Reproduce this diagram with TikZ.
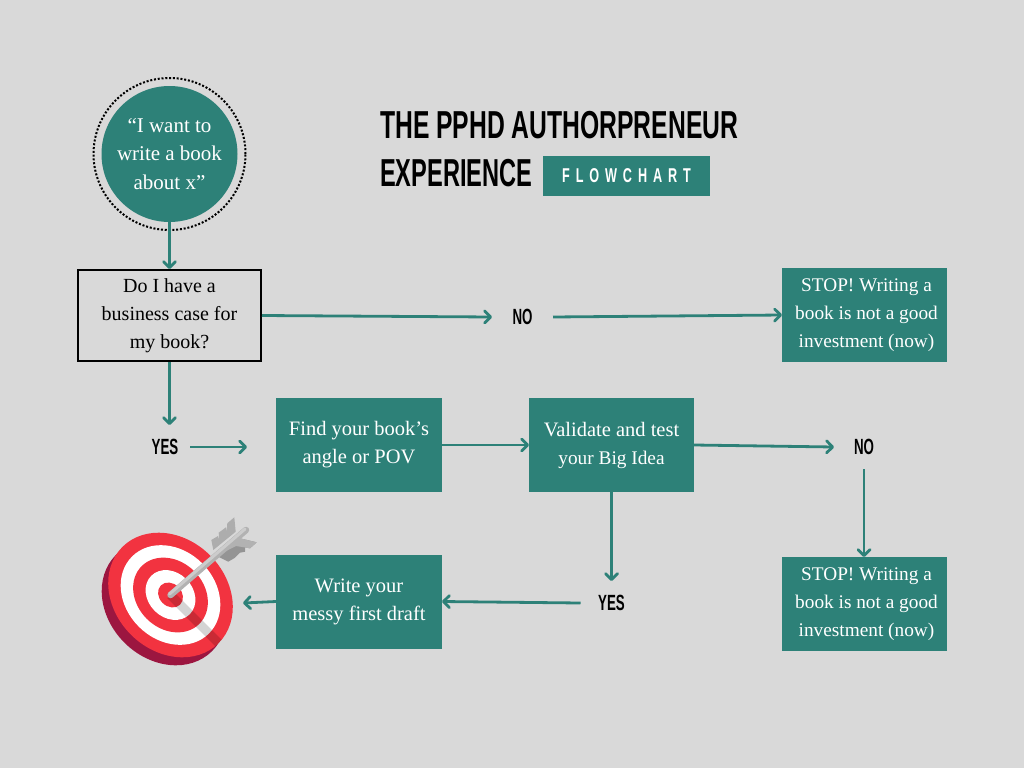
\documentclass[tikz,border=0pt]{standalone}
\usepackage{fontspec}
\setmainfont{Liberation Serif}
\newfontfamily\headf[FakeStretch=0.633]{Liberation Sans}[BoldFont={Liberation Sans Bold}]
\newfontfamily\headg[FakeStretch=0.605]{Liberation Sans}[BoldFont={Liberation Sans Bold}]
\usetikzlibrary{arrows.meta}
\definecolor{teal}{HTML}{2D8178}
\definecolor{bgc}{HTML}{D9D9D9}
\definecolor{tred}{HTML}{F23340}
\definecolor{tdark}{HTML}{9C1640}
\newcommand{\nudge}{\hspace*{4pt}}
\tikzset{
 x=1pt,y=-1pt,
 flow/.style={draw=teal,line width=2.8pt,-{Straight Barb[length=6pt,width=12pt,line width=2.8pt,round]}},
 tealbox/.style={fill=teal,text=white,font=\fontsize{20.5}{28}\selectfont,align=center,minimum width=166pt,minimum height=94pt,inner sep=0pt,outer sep=0pt},
 stopbox/.style={tealbox,minimum width=165pt,font=\fontsize{19.3}{28}\selectfont},
 qbox/.style={draw=black,line width=2pt,text=black,font=\fontsize{20}{28}\selectfont,align=center,minimum width=183pt,minimum height=91pt,inner sep=0pt,outer sep=1pt},
 answer/.style={font=\headg\bfseries\fontsize{22}{24}\selectfont,text=black,inner sep=0pt,outer sep=0pt},
 head/.style={font=\bfseries\fontsize{39}{46}\selectfont,text=black,inner sep=0pt,anchor=base west},
}
\begin{document}
\begin{tikzpicture}
\useasboundingbox (0,0) rectangle (1024,768);
\fill[bgc] (0,0) rectangle (1024,768);
% title
\node[head] (t1) at (380,138) {\headf\bfseries THE PPHD AUTHORPRENEUR};
\node[head] (t2) at (380,186) {\headg\bfseries EXPERIENCE};
\node[fill=teal,text=white,minimum width=167pt,minimum height=40pt,inner sep=0pt,font=\headf\bfseries\fontsize{20}{24}\selectfont] (tag) at (626.5,176) {F\hspace{5.9pt}L\hspace{5.9pt}O\hspace{5.9pt}W\hspace{5.9pt}C\hspace{5.9pt}H\hspace{5.9pt}A\hspace{5.9pt}R\hspace{5.9pt}T\hspace{6pt}};
% start
\draw[black,line width=2pt,dash pattern=on 2pt off 1.8pt] (169.5,154) circle [radius=76pt];
\node[circle,fill=teal,text=white,minimum size=136pt,inner sep=0pt,outer sep=0pt,align=center,font=\fontsize{21}{28.5}\selectfont] (start) at (169.5,154) {“I want to\\write a book\\about x”};
% boxes
\node[qbox] (q) at (169.5,315.5) {Do I have a\\business case for\\my book?};
\node[stopbox] (stopa) at (864.5,315) {\nudge STOP! Writing a\\\nudge book is not a good\\\nudge investment (now)};
\node[tealbox] (find) at (359,445) {Find your book’s\\angle or POV};
\node[stopbox] (valid) at (611.5,445) {\fontsize{20.5}{28}\selectfont Validate and test\\your Big Idea};
\node[stopbox] (stopb) at (864.5,604) {\nudge STOP! Writing a\\\nudge book is not a good\\\nudge investment (now)};
\node[tealbox] (draft) at (359,601.5) {Write your\\messy first draft};
% answers
\node[answer,minimum width=61pt] (noa) at (522.5,317) {NO};
\node[answer,minimum width=50pt,minimum height=44pt] (yesa) at (165,447) {YES};
\node[answer,minimum width=60pt,minimum height=44pt] (nob) at (864,447) {NO};
\node[answer,minimum width=62pt,minimum height=44pt] (yesb) at (611.5,603) {YES};
% target
\fill[tdark,rotate around={-45:(164,603)}] (164,603) ellipse [x radius=68pt,y radius=56pt];
\begin{scope}[rotate around={-45:(170.5,595)}]
 \fill[tred] (170.5,595) ellipse [x radius=68pt,y radius=56pt];
 \fill[white] (170.5,595) ellipse [x radius=54.4pt,y radius=44.8pt];
 \fill[tred] (170.5,595) ellipse [x radius=40.8pt,y radius=33.6pt];
 \fill[white] (170.5,595) ellipse [x radius=27.2pt,y radius=22.4pt];
 \fill[tred] (170.5,595) ellipse [x radius=13.6pt,y radius=11.2pt];
 \clip (170.5,595) ellipse [x radius=68pt,y radius=56pt];
 \fill[black,opacity=.17] (170.5,590.5) rectangle (245,599.5);
\end{scope}
% feathers
\fill[black!32] (213.3,550) -- (211.3,540) -- (218,536) -- (219.3,540) -- (218.7,532.7) -- (226,527.3) -- (226.7,531.7) -- (227.3,523.3) -- (234.3,517.3) -- (235.7,531.7) -- cycle;
\fill[black!42] (218.3,556.7) -- (240,538.3) -- (256.7,542.3) -- (250,548.3) -- (245,547.3) -- (245,551.7) -- (240,552.7) -- (235,557.7) -- (228.3,561.7) -- cycle;
\fill[black!30] (222,553) -- (240,538.3) -- (256.7,542.3) -- (250,548.3) -- (236,546) -- cycle;
% shaft
\draw[line width=6.5pt,line cap=round,draw=black!30] (170.5,595) -- (246,530);
\draw[line width=3pt,line cap=round,draw=black!20] (169.5,594) -- (245,529);
% connectors
\draw[flow] (start.south) -- (q.north);
\draw[flow] (q.east) -- (noa.west);
\draw[flow] (noa.east) -- (stopa.west);
\draw[flow] (q.south) -- (169.5,425);
\draw[flow,shorten >=29pt] (yesa.east) -- (find.west |- yesa.east);
\draw[flow] (find.east) -- (valid.west);
\draw[flow] (valid.east) -- (nob.west);
\draw[flow] (nob.south) -- (stopb.north -| nob.south);
\draw[flow] (valid.south) -- (yesb.north);
\draw[flow] (yesb.west) -- (draft.east);
\draw[flow] (draft.west) -- (243,603);
\end{tikzpicture}
\end{document}
